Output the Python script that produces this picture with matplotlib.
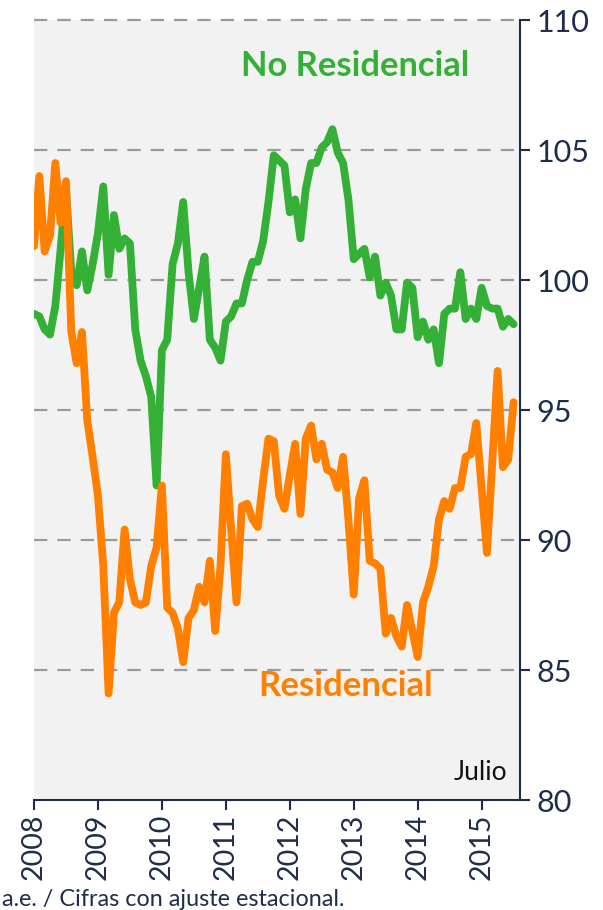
import matplotlib
matplotlib.use("Agg")
import matplotlib.pyplot as plt
import numpy as np

# Monthly index: Jan 2008 = 0 ... Jul 2015 = 90
years = ["2008", "2009", "2010", "2011", "2012", "2013", "2014", "2015"]

no_residencial = [
    98.7, 98.6, 98.1, 97.9, 99.0, 101.2, 103.5, 100.3, 99.8, 101.1,
    99.6, 100.6, 101.8, 103.6, 100.2, 102.5, 101.2, 101.6, 101.4, 98.1,
    96.9, 96.3, 95.5, 92.1, 97.3, 97.7, 100.6, 101.4, 103.0, 100.3,
    98.5, 99.7, 100.9, 97.7, 97.4, 96.9, 98.4, 98.6, 99.1, 99.1,
    100.0, 100.7, 100.7, 101.5, 103.0, 104.8, 104.6, 104.4, 102.6, 103.1,
    101.6, 103.5, 104.5, 104.5, 105.1, 105.3, 105.8, 104.9, 104.5, 103.1,
    100.8, 101.0, 101.2, 100.1, 100.9, 99.4, 99.9, 99.4, 98.1, 98.1,
    99.9, 99.7, 97.8, 98.4, 97.7, 98.1, 96.8, 98.7, 98.9, 98.9,
    100.3, 98.5, 98.9, 98.5, 99.7, 99.0, 98.9, 98.9, 98.2, 98.5,
    98.3,
]

residencial = [
    101.3, 104.0, 101.1, 101.7, 104.5, 102.2, 103.8, 98.0, 96.8, 98.0,
    94.6, 93.2, 91.7, 89.0, 84.1, 87.2, 87.6, 90.4, 88.5, 87.6,
    87.5, 87.6, 89.0, 89.7, 92.1, 87.4, 87.2, 86.6, 85.3, 87.0,
    87.3, 88.2, 87.6, 89.2, 86.5, 89.0, 93.3, 90.4, 87.6, 91.3,
    91.4, 90.8, 90.5, 92.3, 93.9, 93.8, 91.7, 91.2, 92.5, 93.7,
    91.0, 93.9, 94.4, 93.1, 93.7, 92.7, 92.6, 92.0, 93.2, 90.8,
    87.9, 91.6, 92.3, 89.2, 89.1, 88.9, 86.4, 87.0, 86.3, 85.9,
    87.5, 86.5, 85.5, 87.6, 88.2, 89.0, 90.8, 91.5, 91.2, 92.0,
    92.0, 93.2, 93.3, 94.5, 92.0, 89.5, 93.0, 96.5, 92.8, 93.1,
    95.3,
]

y_ticks = [80, 85, 90, 95, 100, 105, 110]

GREEN = "#33b035"
ORANGE = "#ff7f00"
NAVY = "#1f2d4a"

plt.rcParams['font.family'] = ['Lato', 'DejaVu Sans']

fig = plt.figure(figsize=(6.03, 9.10), dpi=100)
ax = fig.add_axes([34/603, 1 - 800/910, (520-34)/603, (800-20)/910])
ax.set_facecolor("#f2f2f2")

x = np.arange(len(no_residencial))
ax.plot(x, no_residencial, color=GREEN, lw=5.6, solid_joinstyle="round", solid_capstyle="round", zorder=3)
ax.plot(np.arange(len(residencial)), residencial, color=ORANGE, lw=5.6, solid_joinstyle="round", solid_capstyle="round", zorder=3)

ax.set_xlim(0, 91.2)
ax.set_ylim(80, 110)

for v in y_ticks[1:]:
    ax.axhline(v, color="#9a9a9a", lw=1.6, ls=(0, (6, 4.5)), zorder=1, clip_on=False)

ax.yaxis.tick_right()
ax.set_yticks(y_ticks)
ax.set_yticklabels([str(v) for v in y_ticks])
ax.set_xticks(np.arange(len(years)) * 12)
ax.set_xticklabels(years, rotation=90)

ax.tick_params(axis="y", direction="out", length=7, width=1.5, color=NAVY,
               labelcolor=NAVY, labelsize=22, pad=5)
ax.tick_params(axis="x", direction="out", length=7, width=1.5, color=NAVY,
               labelcolor=NAVY, labelsize=20.5, pad=3)

for s in ["top", "left"]:
    ax.spines[s].set_visible(False)
for s in ["right", "bottom"]:
    ax.spines[s].set_color(NAVY)
    ax.spines[s].set_linewidth(1.5)

ax.text(355.5/603, 1 - 66/910, "No Residencial", transform=fig.transFigure,
        color=GREEN, fontsize=24.8, fontweight="bold", ha="center", va="center")
ax.text(345.5/603, 1 - 686/910, "Residencial", transform=fig.transFigure,
        color=ORANGE, fontsize=25, fontweight="bold", ha="center", va="center")
ax.text(507/603, 1 - 773/910, "Julio", transform=fig.transFigure,
        color="#111111", fontsize=19, ha="right", va="center")
fig.text(2/603, 1 - 900/910, "a.e. / Cifras con ajuste estacional.",
         color=NAVY, fontsize=16.8, ha="left", va="center")

fig.savefig("out.png", dpi=100)
